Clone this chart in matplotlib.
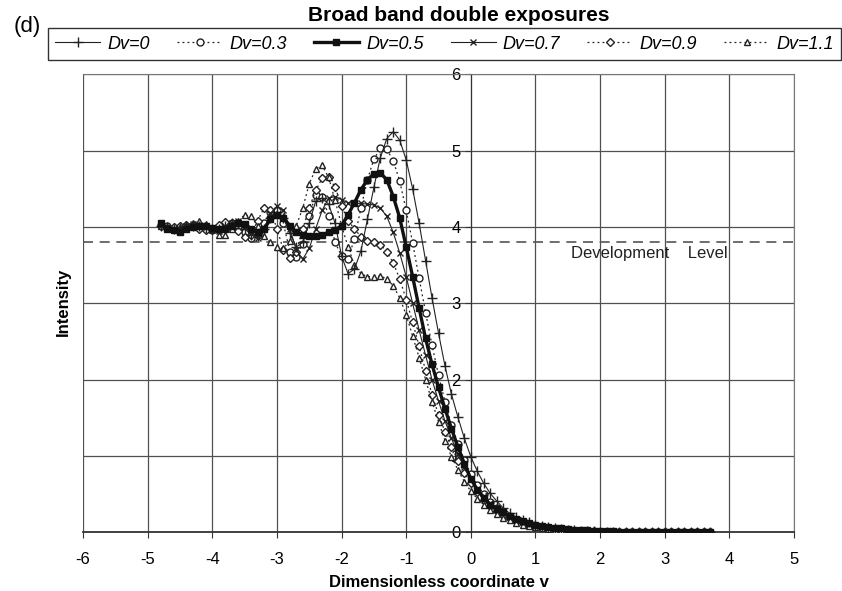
import numpy as np
import matplotlib.pyplot as plt

plt.rcParams['font.family'] = ['Liberation Sans', 'DejaVu Sans']
plt.rcParams['axes.unicode_minus'] = False

# sampling grid of the simulation (dimensionless coordinate v)
v = np.round(np.arange(-4.8, 3.75, 0.1), 1)

dv_0 = [4.02, 4.00, 3.98, 3.99, 4.01, 4.02, 4.01, 3.99, 3.97, 3.98,
        4.02, 4.05, 4.04, 3.98, 3.90, 3.88, 3.97, 4.12, 4.20, 4.12,
        3.92, 3.74, 3.80, 4.05, 4.34, 4.38, 4.30, 4.05, 3.62, 3.39,
        3.45, 3.69, 4.10, 4.52, 4.91, 5.16, 5.25, 5.14, 4.88, 4.50,
        4.05, 3.56, 3.07, 2.61, 2.18, 1.81, 1.51, 1.23, 0.99, 0.80,
        0.64, 0.51, 0.41, 0.32, 0.25, 0.20, 0.16, 0.13, 0.10, 0.08,
        0.065, 0.05, 0.04, 0.03, 0.025, 0.02, 0.015, 0.012, 0.01, 0.008,
        0.006, 0.005, 0.004, 0.003, 0.003, 0.002, 0.002, 0.002, 0.001, 0.001,
        0.001, 0.001, 0.001, 0.001, 0.0, 0.0]

dv_03 = [4.03, 4.01, 3.99, 4.00, 4.02, 4.03, 4.01, 3.98, 3.96, 3.99,
         4.04, 4.06, 4.02, 3.93, 3.86, 3.90, 4.05, 4.20, 4.22, 4.05,
         3.68, 3.61, 3.78, 4.15, 4.42, 4.40, 4.15, 3.80, 3.62, 3.58,
         3.85, 4.25, 4.62, 4.89, 5.03, 5.02, 4.87, 4.60, 4.22, 3.79,
         3.33, 2.88, 2.45, 2.06, 1.71, 1.41, 1.16, 0.95, 0.77, 0.62,
         0.50, 0.40, 0.32, 0.25, 0.20, 0.16, 0.13, 0.10, 0.08, 0.065,
         0.05, 0.04, 0.032, 0.025, 0.02, 0.016, 0.012, 0.01, 0.008, 0.006,
         0.005, 0.004, 0.003, 0.003, 0.002, 0.002, 0.002, 0.001, 0.001, 0.001,
         0.001, 0.001, 0.0, 0.0, 0.0, 0.0]

dv_05 = [4.05, 3.98, 3.96, 3.94, 3.98, 4.00, 4.02, 4.01, 3.99, 3.97,
         3.98, 4.02, 4.05, 4.04, 3.98, 3.94, 3.98, 4.10, 4.16, 4.12,
         4.02, 3.93, 3.90, 3.88, 3.88, 3.90, 3.93, 3.96, 4.02, 4.16,
         4.32, 4.49, 4.62, 4.70, 4.71, 4.62, 4.40, 4.12, 3.74, 3.35,
         2.94, 2.54, 2.20, 1.90, 1.62, 1.36, 1.12, 0.90, 0.70, 0.56,
         0.45, 0.36, 0.30, 0.26, 0.21, 0.175, 0.145, 0.12, 0.10, 0.085,
         0.07, 0.06, 0.05, 0.04, 0.035, 0.03, 0.025, 0.02, 0.016, 0.013,
         0.011, 0.009, 0.008, 0.007, 0.006, 0.005, 0.005, 0.004, 0.004, 0.003,
         0.003, 0.003, 0.002, 0.002, 0.002, 0.002]

dv_07 = [4.02, 4.00, 3.97, 3.98, 4.01, 4.04, 4.03, 4.00, 3.96, 3.95,
         3.99, 4.05, 4.08, 4.02, 3.92, 3.86, 3.98, 4.18, 4.27, 4.22,
         3.98, 3.70, 3.58, 3.72, 3.98, 4.22, 4.38, 4.40, 4.36, 4.32,
         4.31, 4.31, 4.30, 4.29, 4.25, 4.14, 3.93, 3.66, 3.35, 3.00,
         2.65, 2.32, 2.00, 1.72, 1.46, 1.23, 1.03, 0.85, 0.70, 0.57,
         0.47, 0.38, 0.31, 0.25, 0.20, 0.165, 0.135, 0.11, 0.09, 0.075,
         0.06, 0.05, 0.04, 0.033, 0.027, 0.022, 0.018, 0.014, 0.011, 0.009,
         0.007, 0.006, 0.005, 0.004, 0.003, 0.003, 0.002, 0.002, 0.002, 0.001,
         0.001, 0.001, 0.001, 0.001, 0.0, 0.0]

dv_09 = [4.01, 3.99, 4.00, 4.02, 4.03, 4.01, 3.98, 3.96, 3.98, 4.03,
         4.07, 4.05, 3.95, 3.87, 3.90, 4.08, 4.25, 4.22, 3.98, 3.70,
         3.60, 3.68, 3.98, 4.25, 4.48, 4.64, 4.66, 4.52, 4.28, 4.08,
         3.98, 3.87, 3.82, 3.80, 3.77, 3.68, 3.53, 3.32, 3.05, 2.75,
         2.44, 2.12, 1.80, 1.54, 1.32, 1.12, 0.94, 0.78, 0.65, 0.53,
         0.43, 0.35, 0.28, 0.23, 0.185, 0.15, 0.12, 0.10, 0.08, 0.065,
         0.053, 0.043, 0.035, 0.028, 0.022, 0.018, 0.014, 0.011, 0.009, 0.007,
         0.006, 0.005, 0.004, 0.003, 0.003, 0.002, 0.002, 0.002, 0.001, 0.001,
         0.001, 0.001, 0.001, 0.0, 0.0, 0.0]

dv_11 = [4.02, 4.00, 3.98, 4.00, 4.03, 4.05, 4.08, 4.04, 3.98, 3.90,
         3.90, 3.98, 4.08, 4.16, 4.14, 4.02, 3.88, 3.80, 3.74, 3.72,
         3.82, 4.02, 4.25, 4.57, 4.76, 4.81, 4.65, 4.35, 4.02, 3.74,
         3.50, 3.39, 3.35, 3.35, 3.36, 3.32, 3.23, 3.07, 2.85, 2.57,
         2.29, 2.00, 1.71, 1.45, 1.20, 0.99, 0.82, 0.66, 0.54, 0.44,
         0.36, 0.29, 0.24, 0.19, 0.155, 0.125, 0.10, 0.08, 0.065, 0.052,
         0.042, 0.034, 0.027, 0.022, 0.018, 0.014, 0.011, 0.009, 0.007, 0.006,
         0.005, 0.004, 0.003, 0.003, 0.002, 0.002, 0.002, 0.001, 0.001, 0.001,
         0.001, 0.001, 0.0, 0.0, 0.0, 0.0]

dev_level = 3.8

dot = (0, (1.5, 2.5))
fig = plt.figure(figsize=(8.42, 5.91), dpi=100)
ax = fig.add_axes([0.0986, 0.0993, 0.8444, 0.7747])

ax.plot(v, dv_0, color='#222222', lw=0.8, marker='+', ms=7, mew=1.0, label='Dv=0', zorder=4)
ax.plot(v, dv_03, color='#222222', lw=0.9, ls=dot, marker='o', ms=5, mfc='white', mew=1.0,
        label='Dv=0.3', zorder=3)
ax.plot(v, dv_05, color='#111111', lw=2.4, marker='s', ms=4.5, label='Dv=0.5', zorder=5)
ax.plot(v, dv_07, color='#222222', lw=0.8, marker='x', ms=5, mew=1.0, label='Dv=0.7', zorder=4)
ax.plot(v, dv_09, color='#222222', lw=0.9, ls=dot, marker='D', ms=3.6, mfc='white', mew=1.0,
        label='Dv=0.9', zorder=3)
ax.plot(v, dv_11, color='#222222', lw=0.9, ls=dot, marker='^', ms=5, mfc='white', mew=1.0,
        label='Dv=1.1', zorder=3)

ax.axhline(dev_level, color='#555555', lw=1.2, ls=(0, (6, 4)), zorder=2)
ax.text(1.55, 3.66, 'Development    Level', fontsize=12, color='#222222', va='center')

ax.set_xlim(-6, 5)
ax.set_ylim(0, 6)
ax.set_xticks(range(-6, 6))
ax.set_yticks(range(0, 7))
ax.grid(True, color='#505050', lw=0.9)
ax.set_axisbelow(True)

ax.spines['left'].set_position(('data', 0))
ax.spines['left'].set_color('#333333')
ax.spines['bottom'].set_color('#333333')
ax.spines['bottom'].set_linewidth(1.3)
for s in ['top', 'right']:
    ax.spines[s].set_color('#777777')
ax.tick_params(axis='both', direction='out', length=4, labelsize=12, color='#333333')
ax.tick_params(axis='x', pad=10)

ax.set_xlabel('Dimensionless coordinate v', fontsize=12, fontweight='bold', labelpad=6)
fig.text(0.075, 0.489, 'Intensity', rotation=90, fontsize=12, fontweight='bold',
         ha='center', va='center')

fig.text(0.545, 0.974, 'Broad band double exposures', fontsize=15, fontweight='bold',
         ha='center', va='center')
fig.text(0.032, 0.955, '(d)', fontsize=16, ha='center', va='center')

leg = fig.legend(loc='center', bbox_to_anchor=(0.057, 0.898, 0.942, 0.055), mode='expand',
                 ncol=6, fancybox=False, edgecolor='black', handlelength=2.5,
                 prop={'style': 'italic', 'size': 13}, borderaxespad=0, handletextpad=0.4)
leg.get_frame().set_linewidth(1.0)

fig.savefig('out.png', dpi=100)
